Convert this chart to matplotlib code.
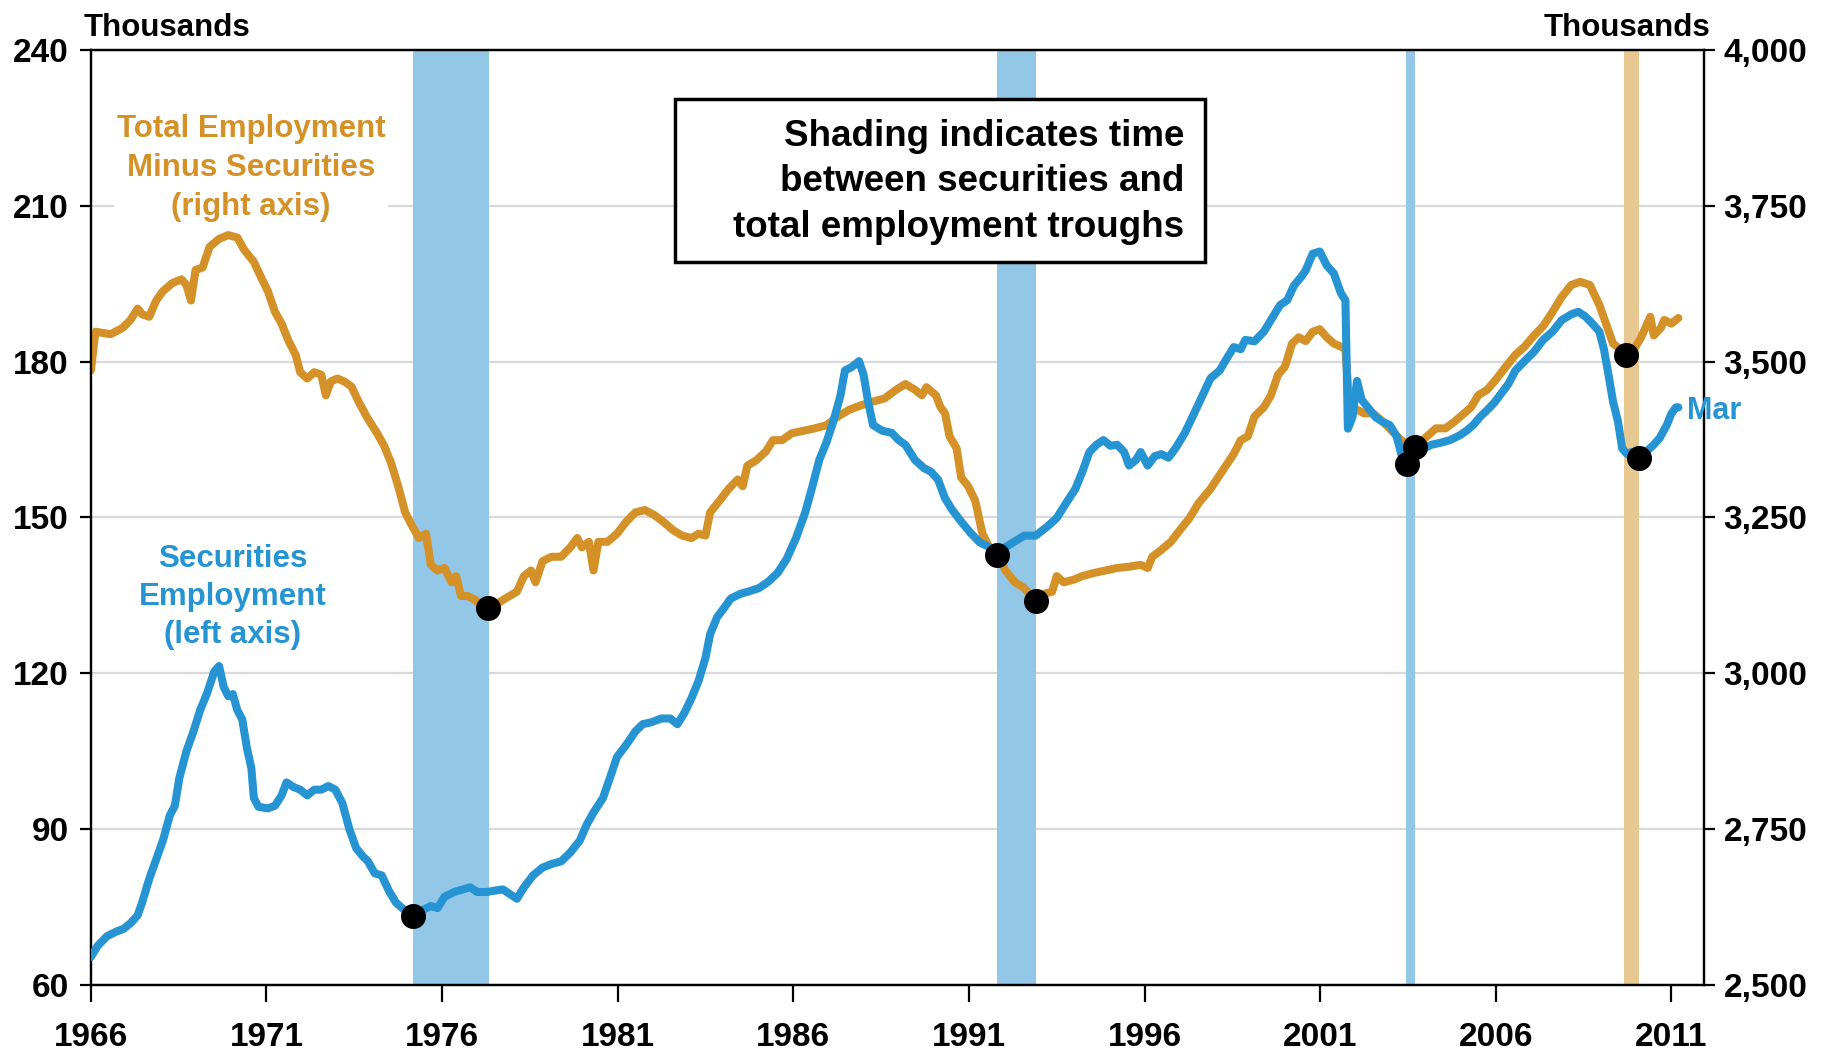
import matplotlib
matplotlib.use("Agg")
import matplotlib.pyplot as plt
from matplotlib.patches import Rectangle

plt.rcParams['font.family'] = ['Liberation Sans', 'DejaVu Sans']
plt.rcParams['font.weight'] = 'bold'

# Securities employment, thousands (left axis)
sec_year = [1966.0, 1966.2, 1966.46, 1966.73, 1966.93, 1967.13, 1967.33, 1967.46, 1967.66, 1967.86,
            1968.05, 1968.25, 1968.39, 1968.52, 1968.72, 1968.92, 1969.11, 1969.31, 1969.51, 1969.65,
            1969.78, 1969.91, 1970.04, 1970.17, 1970.31, 1970.44, 1970.57, 1970.64, 1970.77, 1971.04,
            1971.24, 1971.43, 1971.57, 1971.77, 1971.96, 1972.16, 1972.36, 1972.56, 1972.76, 1972.96,
            1973.16, 1973.36, 1973.55, 1973.75, 1973.89, 1974.08, 1974.28, 1974.48, 1974.68, 1974.95,
            1975.18, 1975.41, 1975.68, 1975.87, 1976.07, 1976.34, 1976.6, 1976.8, 1977.0, 1977.27,
            1977.53, 1977.73, 1977.93, 1978.13, 1978.33, 1978.59, 1978.86, 1979.12, 1979.39, 1979.65,
            1979.92, 1980.12, 1980.31, 1980.58, 1980.78, 1980.98, 1981.24, 1981.5, 1981.71, 1981.97,
            1982.24, 1982.5, 1982.7, 1982.9, 1983.1, 1983.3, 1983.5, 1983.63, 1983.83, 1984.03,
            1984.22, 1984.49, 1984.75, 1985.02, 1985.28, 1985.55, 1985.81, 1986.08, 1986.34, 1986.54,
            1986.74, 1986.94, 1987.14, 1987.34, 1987.47, 1987.67, 1987.87, 1988.0, 1988.13, 1988.27,
            1988.53, 1988.8, 1989.0, 1989.19, 1989.46, 1989.72, 1989.92, 1990.12, 1990.32, 1990.52,
            1990.78, 1991.05, 1991.31, 1991.58, 1991.81, 1992.04, 1992.31, 1992.57, 1992.9, 1993.24,
            1993.5, 1993.77, 1994.03, 1994.23, 1994.43, 1994.63, 1994.83, 1995.03, 1995.22, 1995.42,
            1995.56, 1995.76, 1995.89, 1996.09, 1996.29, 1996.48, 1996.68, 1996.88, 1997.15, 1997.41,
            1997.68, 1997.88, 1998.14, 1998.34, 1998.54, 1998.74, 1998.87, 1999.13, 1999.4, 1999.66,
            1999.86, 2000.06, 2000.26, 2000.46, 2000.59, 2000.79, 2000.99, 2001.19, 2001.39, 2001.59,
            2001.72, 2001.79, 2001.92, 2002.05, 2002.18, 2002.38, 2002.58, 2002.78, 2002.98, 2003.18,
            2003.31, 2003.47, 2003.64, 2003.9, 2004.17, 2004.44, 2004.7, 2004.97, 2005.17, 2005.36,
            2005.56, 2005.76, 2005.96, 2006.16, 2006.36, 2006.56, 2006.82, 2007.09, 2007.35, 2007.62,
            2007.88, 2008.15, 2008.35, 2008.55, 2008.74, 2008.95, 2009.08, 2009.21, 2009.34, 2009.48,
            2009.6, 2009.74, 2009.87, 2010.07, 2010.27, 2010.47, 2010.67, 2010.87, 2011.0, 2011.13,
            2011.2]
sec_val = [65.4, 67.6, 69.4, 70.3, 70.8, 71.9, 73.4, 75.9, 80.4, 84.2,
           87.8, 92.7, 94.5, 99.9, 105.0, 108.8, 112.9, 116.2, 120.3, 121.4,
           117.4, 115.6, 116.0, 112.9, 111.1, 105.7, 101.7, 96.0, 94.3, 94.0,
           94.5, 96.5, 99.0, 98.1, 97.6, 96.5, 97.6, 97.6, 98.3, 97.6,
           95.0, 90.0, 86.4, 84.7, 83.8, 81.5, 81.1, 78.2, 75.9, 74.3,
           73.2, 74.3, 75.2, 74.8, 77.0, 77.9, 78.4, 78.8, 77.9, 77.9,
           78.2, 78.4, 77.5, 76.6, 78.8, 81.1, 82.6, 83.3, 83.8, 85.5,
           87.8, 90.9, 93.2, 96.0, 99.9, 103.9, 106.2, 108.8, 110.2, 110.6,
           111.3, 111.3, 110.2, 112.4, 115.2, 118.5, 123.0, 127.5, 130.8, 132.6,
           134.4, 135.3, 135.8, 136.4, 137.6, 139.3, 142.0, 146.1, 151.0, 155.9,
           161.1, 164.4, 168.5, 173.4, 178.3, 179.0, 180.1, 177.5, 172.3, 167.8,
           166.7, 166.3, 164.9, 164.0, 161.1, 159.5, 158.8, 157.3, 153.7, 151.5,
           149.2, 147.0, 145.2, 144.3, 142.7, 144.3, 145.4, 146.5, 146.5, 148.3,
           149.9, 152.8, 155.5, 158.8, 162.6, 164.0, 164.9, 163.8, 164.0, 162.6,
           160.0, 161.1, 162.6, 160.0, 161.8, 162.2, 161.5, 163.3, 166.3, 170.0,
           173.9, 176.8, 178.3, 180.6, 182.8, 182.4, 184.2, 183.9, 185.8, 188.7,
           190.9, 191.8, 194.7, 196.3, 197.6, 200.8, 201.2, 198.5, 197.0, 193.2,
           191.8, 167.1, 169.3, 176.3, 172.7, 171.0, 169.3, 168.4, 167.8, 165.6,
           162.2, 160.2, 161.8, 163.1, 164.0, 164.4, 164.9, 165.8, 166.7, 167.8,
           169.4, 170.7, 172.1, 173.9, 175.7, 178.3, 180.1, 181.9, 184.2, 185.8,
           188.0, 189.1, 189.6, 188.7, 187.4, 185.8, 182.4, 177.5, 172.3, 168.5,
           163.3, 162.2, 162.6, 161.5, 162.6, 163.8, 165.3, 167.8, 170.0, 171.2,
           171.2]

# Total employment minus securities, thousands (right axis)
tot_year = [1966.0, 1966.13, 1966.56, 1966.9, 1967.13, 1967.33, 1967.46, 1967.66, 1967.86, 1968.05,
            1968.32, 1968.58, 1968.72, 1968.85, 1968.98, 1969.18, 1969.38, 1969.65, 1969.91, 1970.17,
            1970.37, 1970.64, 1970.84, 1971.04, 1971.24, 1971.43, 1971.63, 1971.83, 1971.96, 1972.16,
            1972.36, 1972.56, 1972.69, 1972.83, 1973.02, 1973.22, 1973.42, 1973.62, 1973.89, 1974.15,
            1974.35, 1974.55, 1974.75, 1974.95, 1975.15, 1975.34, 1975.54, 1975.68, 1975.87, 1976.07,
            1976.27, 1976.4, 1976.54, 1976.73, 1976.93, 1977.13, 1977.3, 1977.6, 1977.86, 1978.13,
            1978.33, 1978.53, 1978.66, 1978.86, 1979.12, 1979.39, 1979.65, 1979.85, 1979.98, 1980.18,
            1980.31, 1980.45, 1980.71, 1980.98, 1981.24, 1981.5, 1981.77, 1982.04, 1982.3, 1982.57,
            1982.83, 1983.1, 1983.3, 1983.5, 1983.63, 1983.9, 1984.16, 1984.42, 1984.56, 1984.69,
            1984.95, 1985.22, 1985.42, 1985.68, 1985.95, 1986.28, 1986.61, 1986.94, 1987.27, 1987.6,
            1987.93, 1988.27, 1988.6, 1988.93, 1989.19, 1989.46, 1989.66, 1989.79, 1990.06, 1990.19,
            1990.32, 1990.45, 1990.65, 1990.78, 1990.98, 1991.18, 1991.38, 1991.58, 1991.81, 1992.04,
            1992.31, 1992.57, 1992.9, 1993.17, 1993.37, 1993.5, 1993.7, 1993.97, 1994.23, 1994.56,
            1994.89, 1995.22, 1995.56, 1995.89, 1996.09, 1996.22, 1996.48, 1996.75, 1997.01, 1997.28,
            1997.54, 1997.88, 1998.21, 1998.54, 1998.74, 1998.94, 1999.13, 1999.4, 1999.6, 1999.8,
            2000.0, 2000.2, 2000.39, 2000.59, 2000.79, 2000.99, 2001.19, 2001.39, 2001.59, 2001.72,
            2001.85, 2002.05, 2002.25, 2002.51, 2002.78, 2003.04, 2003.31, 2003.71, 2004.04, 2004.3,
            2004.57, 2004.83, 2005.1, 2005.3, 2005.5, 2005.76, 2006.03, 2006.29, 2006.56, 2006.82,
            2007.09, 2007.35, 2007.62, 2007.88, 2008.15, 2008.4, 2008.68, 2008.95, 2009.14, 2009.34,
            2009.54, 2009.7, 2009.94, 2010.14, 2010.4, 2010.5, 2010.7, 2010.8, 2011.0, 2011.2]
tot_val = [3486, 3548, 3544, 3554, 3567, 3585, 3576, 3572, 3598, 3613,
           3626, 3632, 3623, 3598, 3647, 3651, 3684, 3697, 3703, 3699,
           3679, 3660, 3636, 3613, 3580, 3561, 3533, 3511, 3483, 3473,
           3483, 3479, 3446, 3468, 3473, 3468, 3460, 3436, 3408, 3385,
           3365, 3337, 3300, 3258, 3236, 3217, 3224, 3174, 3165, 3169,
           3146, 3156, 3124, 3124, 3118, 3109, 3105, 3113, 3122, 3131,
           3156, 3165, 3146, 3180, 3187, 3187, 3202, 3217, 3202, 3211,
           3165, 3211, 3211, 3224, 3243, 3258, 3262, 3254, 3243, 3230,
           3221, 3217, 3224, 3221, 3258, 3277, 3296, 3311, 3300, 3333,
           3342, 3356, 3374, 3374, 3385, 3389, 3393, 3398, 3412, 3423,
           3430, 3436, 3441, 3455, 3464, 3455, 3446, 3459, 3446, 3427,
           3417, 3380, 3361, 3314, 3300, 3277, 3225, 3202, 3189, 3165,
           3146, 3137, 3116, 3128, 3131, 3156, 3146, 3150, 3156, 3161,
           3165, 3169, 3171, 3174, 3169, 3187, 3198, 3211, 3230, 3249,
           3273, 3296, 3324, 3352, 3374, 3380, 3412, 3427, 3446, 3479,
           3492, 3529, 3539, 3533, 3548, 3552, 3539, 3529, 3524, 3520,
           3417, 3423, 3417, 3417, 3404, 3389, 3374, 3363, 3380, 3393,
           3393, 3404, 3417, 3427, 3446, 3455, 3473, 3492, 3511, 3524,
           3542, 3557, 3580, 3604, 3623, 3628, 3623, 3591, 3561, 3529,
           3520, 3511, 3520, 3539, 3572, 3542, 3554, 3567, 3561, 3570]

# troughs
sec_trough_year = [1975.18, 1991.81, 2003.47, 2010.07]
sec_trough_val = [73.2, 142.7, 160.2, 161.5]
tot_trough_year = [1977.3, 1992.9, 2003.71, 2009.7]
tot_trough_val = [3105, 3116, 3363, 3511]

# shaded periods (securities trough -> total trough)
blue_spans = [(1975.18, 1977.33), (1991.81, 1992.9), (2003.44, 2003.71)]
tan_spans = [(2009.64, 2010.07)]

BLUE = '#2694D3'
ORANGE = '#D39128'

fig = plt.figure(figsize=(18.25, 10.52), dpi=100)
ax = fig.add_subplot(111)
fig.subplots_adjust(left=0.0498, right=0.9337, top=0.9525, bottom=0.0637)
ax2 = ax.twinx()
ax.set_zorder(ax2.get_zorder() + 1)
ax.patch.set_visible(False)

for a, b in blue_spans:
    ax2.axvspan(a, b, color='#93C7E7', lw=0, zorder=1)
for a, b in tan_spans:
    ax2.axvspan(a, b, color='#E8C891', lw=0, zorder=1)

ax2.plot(tot_year, tot_val, color=ORANGE, lw=5.8, solid_joinstyle='round',
         solid_capstyle='round', zorder=3)
ax.plot(sec_year, sec_val, color=BLUE, lw=5.8, solid_joinstyle='round',
        solid_capstyle='round', zorder=3)

ax.plot(sec_trough_year, sec_trough_val, 'o', color='black', ms=17, zorder=5)
ax.plot(tot_trough_year, tot_trough_val, 'o', color='black', ms=17, zorder=5,
        transform=ax2.transData)

ax.set_xlim(1966, 2011.93)
ax.set_ylim(60, 240)
ax2.set_ylim(2500, 4000)
ax.set_xticks(range(1966, 2012, 5))
ax.set_yticks(range(60, 241, 30))
ax2.set_yticks(range(2500, 4001, 250))
ax2.set_yticklabels([f'{v:,}' for v in range(2500, 4001, 250)])

ax2.set_axisbelow(True)
ax2.grid(axis='y', color='#D9D9D9', lw=1.6, zorder=0)
ax.grid(False)

for a in (ax, ax2):
    for s in a.spines.values():
        s.set_linewidth(1.6)
    a.tick_params(labelsize=24, width=1.6)
ax.tick_params(axis='y', direction='out', length=8, pad=8)
ax.tick_params(axis='x', direction='out', length=12, pad=15)
ax2.tick_params(axis='y', direction='out', length=8, pad=6)

ax.text(0.0992, 0.874, 'Total Employment\nMinus Securities\n(right axis)',
        transform=ax.transAxes, ha='center', va='center', color=ORANGE,
        fontsize=22.5, fontweight='bold', linespacing=1.38,
        bbox=dict(facecolor='white', edgecolor='none', pad=2))
ax.text(0.088, 0.415, 'Securities\nEmployment\n(left axis)',
        transform=ax.transAxes, ha='center', va='center', color=BLUE,
        fontsize=22.5, fontweight='bold', linespacing=1.36)

ax.add_patch(Rectangle((0.362, 0.7733), 0.3286, 0.1743, transform=ax.transAxes,
                       facecolor='white', edgecolor='black', lw=2.5, zorder=6))
ax.text(0.678, 0.859, 'Shading indicates time\nbetween securities and\ntotal employment troughs',
        transform=ax.transAxes, ha='right', va='center', fontsize=26.5,
        fontweight='bold', linespacing=1.38, zorder=7)

ax.text(2011.45, 170.5, 'Mar', color=BLUE, fontsize=22, fontweight='bold',
        va='center', ha='left')

fig.text(0.046, 0.973, 'Thousands', fontsize=22.5, fontweight='bold', ha='left', va='center')
fig.text(0.937, 0.973, 'Thousands', fontsize=22.5, fontweight='bold', ha='right', va='center')

fig.savefig('out.png', dpi=100, facecolor='white')
